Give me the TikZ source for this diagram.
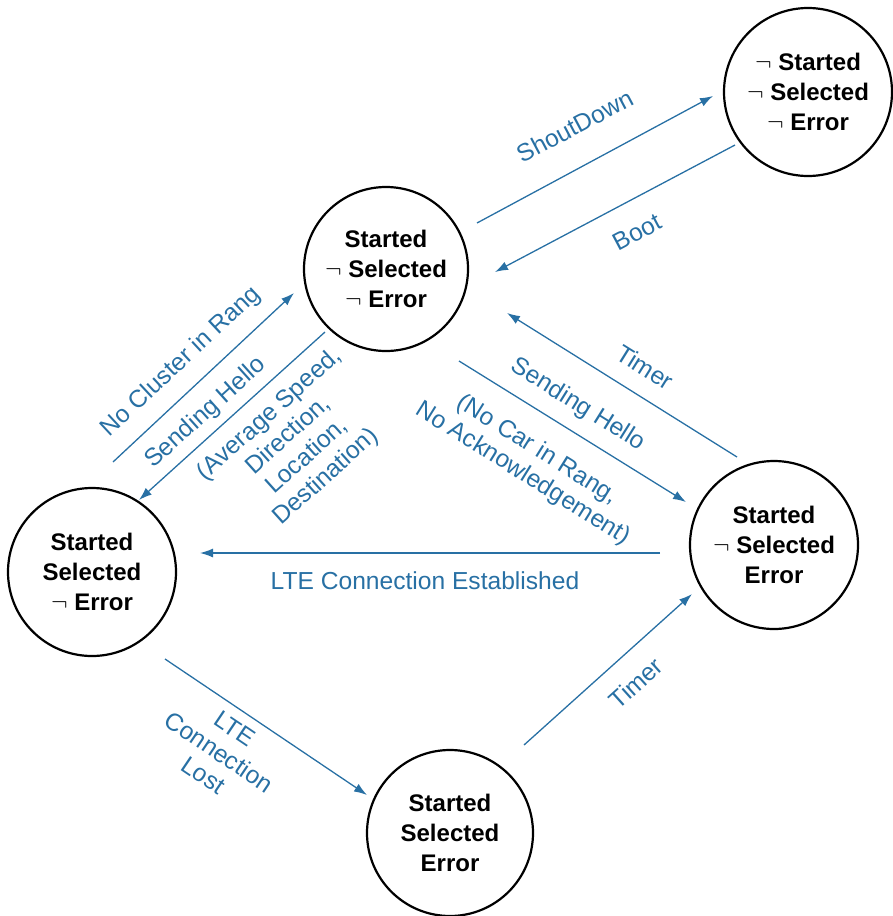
\documentclass[tikz,border=0pt]{standalone}
\usepackage{fontspec}
\setmainfont{Liberation Sans}
\usetikzlibrary{arrows.meta}
\definecolor{edgeblue}{RGB}{40,112,164}
\tikzset{
  state/.style={draw,circle,line width=2.2pt,minimum size=168pt,inner sep=0pt,
    align=center,font=\fontsize{24}{30}\selectfont\bfseries},
  trans/.style={edgeblue,line width=1.3pt,-{Latex[length=13pt,width=9pt]}},
  lbl/.style={edgeblue,align=center,inner sep=0pt,font=\fontsize{24.6}{28}\selectfont}
}
\begin{document}
\begin{tikzpicture}[x=1pt,y=-1pt]
            \useasboundingbox (0,0) rectangle (892,916);
            % states
            \node[state] (off) at (808,92) {$\neg$ Started\\$\neg$ Selected\\$\neg$ Error};
            \node[state,minimum size=164pt] (idle) at (386,269) {Started\\$\neg$ Selected\\$\neg$ Error};
            \node[state] (member) at (92,572) {Started\\Selected\\$\neg$ Error};
            \node[state] (alone) at (774,545) {Started\\$\neg$ Selected\\Error};
            \node[state,minimum size=166pt] (fault) at (450,833) {Started\\Selected\\Error};
            % arrow ends
            \coordinate (sdA) at (477,223);  \coordinate (sdB) at (713,96);
            \coordinate (btA) at (735,145);  \coordinate (btB) at (495,272);
            \coordinate (ncA) at (113,462);  \coordinate (ncB) at (294,293);
            \coordinate (shA) at (325,332);  \coordinate (shB) at (139,500);
            \coordinate (tuA) at (737,457);  \coordinate (tuB) at (507,313);
            \coordinate (srA) at (459,361);  \coordinate (srB) at (686,502);
            \coordinate (leA) at (660,553);  \coordinate (leB) at (200,553);
            \coordinate (llA) at (165,659);  \coordinate (llB) at (367,795);
            \coordinate (tbA) at (524,745);  \coordinate (tbB) at (692,594);
            % transitions
            \draw[trans] (sdA) -- (sdB);
            \draw[trans] (btA) -- (btB);
            \draw[trans] (ncA) -- (ncB);
            \draw[trans] (shA) -- (shB);
            \draw[trans] (tuA) -- (tuB);
            \draw[trans] (srA) -- (srB);
            \draw[trans] (leA) -- (leB);
            \draw[trans] (llA) -- (llB);
            \draw[trans] (tbA) -- (tbB);
            % labels
            \node[lbl,rotate=28] (shutLbl) at (575,126) {ShoutDown};
            \node[lbl,rotate=28] (bootLbl) at (637,232) {Boot};
            \node[lbl,rotate=43] (clusterLbl) at (181,362) {No Cluster in Rang};
            \node[lbl,rotate=42] (helloLbl) at (206,413) {Sending Hello};
            \node[lbl,rotate=42] (infoLbl) at (298,446) {(Average Speed,\\Direction,\\Location,\\Destination)};
            \node[lbl,rotate=-32] (timerLbl) at (645,367) {Timer};
            \node[lbl,rotate=-32] (sendLbl) at (578,405) {Sending Hello};
            \node[lbl,rotate=-32] (nocarLbl) at (530,462) {(No Car in Rang,\\No Acknowledgement)};
            \node[lbl] (estLbl) at (425,581) {LTE Connection Established};
            \node[lbl,rotate=-34] (lostLbl) at (219,752) {LTE\\Connection\\Lost};
            \node[lbl,rotate=42] (timer2Lbl) at (636,683) {Timer};
        \end{tikzpicture}
\end{document}
